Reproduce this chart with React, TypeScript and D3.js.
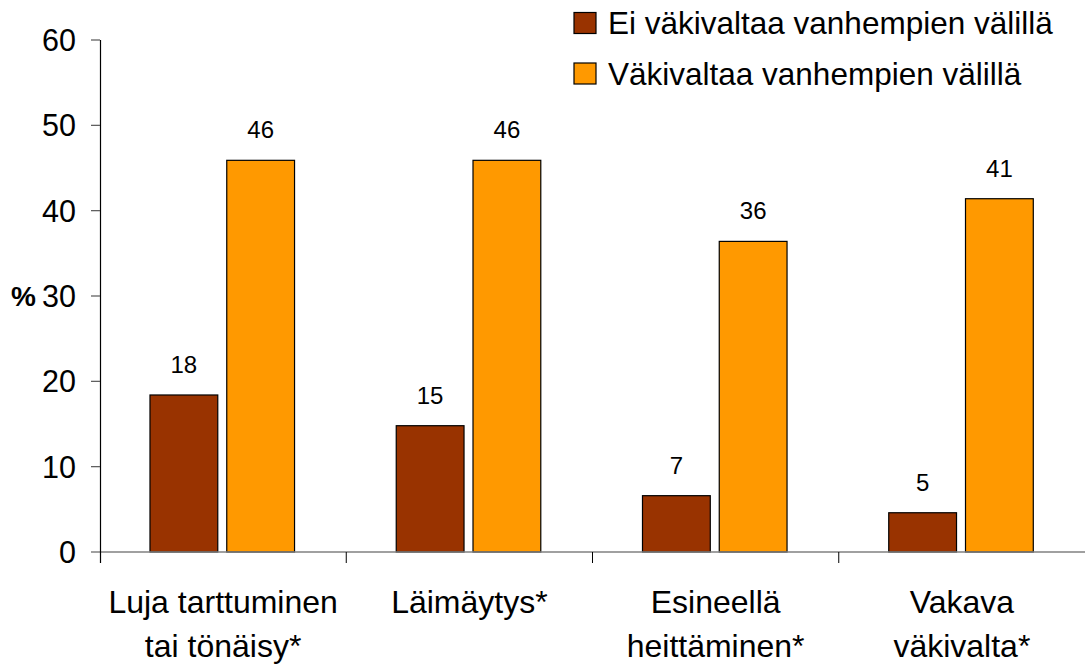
import React from "react";
import * as d3 from "d3";

const categories = ["Luja tarttuminen|tai tönäisy*", "Läimäytys*", "Esineellä|heittäminen*", "Vakava|väkivalta*"];
const seriesNames = ["Ei väkivaltaa vanhempien välillä", "Väkivaltaa vanhempien välillä"];
const seriesColors = ["#993300", "#FF9900"];
const noViolence = [18.4, 14.8, 6.6, 4.6];
const violence = [45.9, 45.9, 36.4, 41.4];
const yTicks = [0, 10, 20, 30, 40, 50, 60];

const W = 1085;
const H = 664;
const FONT = "'Liberation Sans', Arial, Helvetica, sans-serif";

export default function App() {
  const y = d3.scaleLinear().domain([0, 60]).range([552, 40]);
  const x0 = d3.scaleBand<string>().domain(categories).range([100, 1085]).paddingInner(0).paddingOuter(0);
  const bw = x0.bandwidth();
  const x1 = d3
    .scaleBand<string>()
    .domain(seriesNames)
    .range([bw * 0.203, bw * 0.79])
    .paddingInner(0.117)
    .paddingOuter(0);
  const seriesValues = [noViolence, violence];
  const fmt = d3.format(".0f");

  return (
    <svg width={W} height={H} style={{ position: "absolute", left: 0, top: 0, background: "#fff" }} fontFamily={FONT}>
      {/* bars */}
      {categories.map((c, ci) => (
        <g key={c} transform={`translate(${x0(c)},0)`}>
          {seriesNames.map((s, si) => {
            const v = seriesValues[si][ci];
            const bx = x1(s) as number;
            return (
              <g key={s}>
                <rect
                  x={bx}
                  y={y(v)}
                  width={x1.bandwidth()}
                  height={y(0) - y(v)}
                  fill={seriesColors[si]}
                  stroke="#000"
                  strokeWidth={1.2}
                />
                <text
                  x={bx + x1.bandwidth() / 2}
                  y={y(v) - 22}
                  textAnchor="middle"
                  fontSize={24}
                  fill="#000"
                >
                  {fmt(v)}
                </text>
              </g>
            );
          })}
        </g>
      ))}

      {/* x axis */}
      <line x1={91} x2={1085} y1={y(0)} y2={y(0)} stroke="#808080" strokeWidth={1.5} />
      {categories.map((c, ci) =>
        ci === 0 ? null : (
          <line key={c} x1={x0(c)} x2={x0(c)} y1={y(0)} y2={y(0) + 11} stroke="#000" strokeWidth={1} />
        )
      )}
      {categories.map((c) => {
        const lines = c.split("|");
        const cx = (x0(c) as number) + bw / 2;
        return (
          <text key={c} x={cx} textAnchor="middle" fontSize={32} fill="#000">
            {lines.map((l, li) => (
              <tspan key={li} x={cx} y={613 + li * 44}>
                {l}
              </tspan>
            ))}
          </text>
        );
      })}

      {/* y axis */}
      <line x1={100.5} x2={100.5} y1={y(60)} y2={y(0) + 11} stroke="#000" strokeWidth={1.2} />
      {yTicks.map((t) => (
        <g key={t}>
          {t !== 0 && <line x1={91} x2={100} y1={y(t)} y2={y(t)} stroke="#555" strokeWidth={1.2} />}
          <text x={76} y={y(t) + 11} textAnchor="end" fontSize={30.5} fill="#000">
            {t}
          </text>
        </g>
      ))}
      <text x={11} y={y(30) + 10} fontSize={28} fontWeight="bold" fill="#000">
        %
      </text>

      {/* legend */}
      {seriesNames.map((s, si) => (
        <g key={s} transform={`translate(574,${12.5 + si * 50.5})`}>
          <rect x={0} y={0} width={22} height={21} fill={seriesColors[si]} stroke="#000" strokeWidth={1.2} />
          <text x={34} y={21.5} fontSize={31.5} fill="#000">
            {s}
          </text>
        </g>
      ))}
    </svg>
  );
}
